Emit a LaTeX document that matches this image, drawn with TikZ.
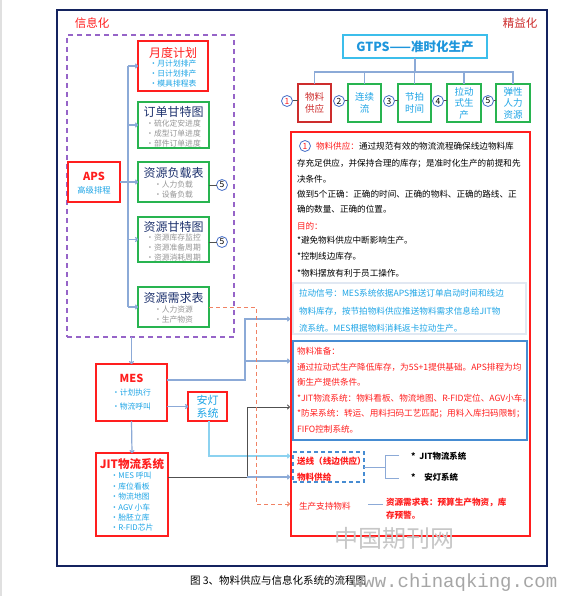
\documentclass[tikz,border=0pt]{standalone}
\usepackage{fontspec}
\setmainfont{Noto Sans CJK SC}
\newfontfamily\wmmono{Liberation Mono}
\usetikzlibrary{arrows.meta}
\definecolor{cnavy}{RGB}{20,35,95}
\definecolor{cred}{RGB}{255,30,30}
\definecolor{cdred}{RGB}{205,45,45}
\definecolor{cgreen}{RGB}{40,180,80}
\definecolor{cpurple}{RGB}{150,100,200}
\definecolor{ccyan}{RGB}{30,165,230}
\definecolor{ctitle}{RGB}{30,50,110}
\definecolor{cgrayt}{RGB}{150,150,150}
\definecolor{cconn}{RGB}{140,170,215}
\definecolor{clcyan}{RGB}{140,210,240}
\definecolor{cdark}{RGB}{80,80,80}
\definecolor{corange}{RGB}{240,130,100}
\definecolor{cgtpsb}{RGB}{60,190,235}
\definecolor{cgtpst}{RGB}{30,150,220}
\definecolor{cbbox}{RGB}{70,140,210}
\definecolor{cfaint}{RGB}{225,232,242}
\definecolor{ccirc}{RGB}{70,110,200}
\newcommand\fsz[2]{\fontsize{#1}{#2}\selectfont}

\begin{document}
\begin{tikzpicture}[x=1pt,y=-1pt,
  every node/.style={inner sep=0pt,outer sep=0pt},
  rbox/.style 2 args={draw=cred,line width=1.3pt,minimum width=#1,minimum height=#2},
  gbox/.style 2 args={draw=cgreen,line width=1.3pt,minimum width=#1,minimum height=#2},
  ltitle/.style={font=\fsz{12}{14},text=ctitle},
  litem/.style={font=\fsz{7.8}{10},text=cgrayt,align=center},
  circ/.style={circle,draw=ccirc,line width=0.8pt,fill=white,minimum size=11pt,font=\fsz{8.5}{8.5}},
  body/.style={anchor=west,font=\fsz{8.6}{10}},
  conn/.style={draw=cconn,line width=1.2pt},
  arr/.style={-{To[length=3pt,width=5pt]}},
  linkln/.style={draw=cdark,line width=1pt}
]
\useasboundingbox (0,0) rectangle (560,596);
\fill[white] (0,0) rectangle (560,596);
\fill[black!12] (0,0) rectangle (2,596);

% outer frame
\draw[cnavy,line width=1.4pt] (57,10) rectangle (547,566);
\node[font=\fsz{11.5}{13},text=cred] (lxx) at (92,23) {信息化};
\node[font=\fsz{11.5}{13},text=cdred] (ljy) at (520,23) {精益化};

% purple dashed area
\node[draw=cpurple,line width=1.4pt,dash pattern=on 5pt off 4pt,minimum width=167,minimum height=302] (info) at (150.5,186) {};

% left boxes
\node[rbox={70}{50}] (yd) at (173,66) {};
\node[ltitle,text=cred] (ydt) at (173,53) {月度计划};
\node[litem,text=ccyan] (ydi) at (173,73.5) {•月计划排产\\•日计划排产\\•模具排程表};

\node[gbox={71}{46}] (dd) at (173.5,125) {};
\node[ltitle] (ddt) at (173.5,112) {订单甘特图};
\node[litem] (ddi) at (173.5,133.5) {•硫化定安进度\\•成型订单进度\\•部件订单进度};

\node[gbox={71}{40}] (fz) at (173.5,182) {};
\node[ltitle] (fzt) at (173.5,173) {资源负载表};
\node[litem] (fzi) at (173.5,189.5) {•人力负载\\•设备负载};

\node[gbox={71}{45}] (gt) at (173.5,239.5) {};
\node[ltitle] (gtt) at (173.5,227) {资源甘特图};
\node[litem] (gti) at (173.5,247.5) {•资源库存监控\\•资源准备周期\\•资源消耗周期};

\node[gbox={71}{40}] (xq) at (173.5,307) {};
\node[ltitle] (xqt) at (173.5,298) {资源需求表};
\node[litem] (xqi) at (173.5,314.5) {•人力资源\\•生产物资};

\node[circ] (c5a) at (222,185) {5};
\node[circ] (c5b) at (222,242) {5};
\draw[linkln] (fz.east |- c5a) -- (c5a);
\draw[linkln] (gt.east |- c5b) -- (c5b);

% APS
\node[rbox={52}{40}] (aps) at (94,182) {};
\node[font=\fsz{11}{13}\bfseries,text=cred] (apst) at (94,176) {APS};
\node[font=\fsz{8.3}{10},text=ccyan] (apsi) at (94,190) {高级排程};

% APS distribution
\coordinate (vx) at (128,0);
\draw[conn] (vx |- yd.west) -- (vx |- xq.west);
\draw[conn] (aps.east) -- (aps.east -| vx);
\foreach \b in {yd,dd,fz,gt,xq}{
  \draw[conn,arr] (vx |- \b.west) -- (\b.west);
}

% MES
\node[rbox={71}{57}] (mes) at (131.5,392.5) {};
\node[font=\fsz{11}{13}\bfseries,text=cred] (mest) at (131.5,378) {MES};
\node[font=\fsz{7.8}{14},text=ccyan,align=left] (mesi) at (131.5,400) {•计划执行\\•物流呼叫};
\draw[conn,arr] (info.south -| mes.north) -- (mes.north);

% Andon
\node[rbox={39}{29},align=center,font=\fsz{11}{13},text=ccyan] (ad) at (207.5,406.5) {安灯\\系统};
\draw[conn,arr] (mes.east |- ad.west) -- (ad.west);

% JIT
\node[rbox={72}{83}] (jit) at (132,494.5) {};
\node[font=\fsz{11.5}{13}\bfseries,text=cred] (jitt) at (132,464) {JIT物流系统};
\node[font=\fsz{7.8}{10.4},text=ccyan,align=left] (jiti) at (132,502) {•MES 呼叫\\•库位看板\\•物流地图\\•AGV 小车\\•胎胚立库\\•R-FID芯片};
\draw[conn,arr] (mes.south) -- (jit.north);

% GTPS
\node[draw=cgtpsb,line width=1.4pt,minimum width=144,minimum height=23,font=\fsz{12.5}{14}\bfseries,text=cgtpst] (gtps) at (415,46.5) {GTPS——准时化生产};
\node[rbox={33}{38},draw=cdred,align=center,font=\fsz{9.5}{11.5},text=cdred] (b1) at (314.5,103) {物料\\供应};
\node[gbox={33}{38},align=center,font=\fsz{9.5}{11.5},text=ccyan] (b2) at (364.5,103) {连续\\流};
\node[gbox={33}{38},align=center,font=\fsz{9.5}{11.5},text=ccyan] (b3) at (414.5,103) {节拍\\时间};
\node[gbox={34}{38},align=center,font=\fsz{9.5}{11.5},text=ccyan] (b4) at (464,103) {拉动\\式生\\产};
\node[gbox={34}{38},align=center,font=\fsz{9.5}{11.5},text=ccyan] (b5) at (513,103) {弹性\\人力\\资源};
\coordinate (tj) at (415,72);
\draw[conn] (gtps.south) -- (tj);
\draw[conn] (b1.north) -- (b1.north |- tj) -- (b5.north |- tj) -- (b5.north);
\foreach \b in {b2,b3,b4}{ \draw[conn] (\b.north) -- (\b.north |- tj); }
\node[circ] (n1) at (287,101) {\textcolor{cred}{1}};
\node[circ] (n2) at (339,101) {2};
\node[circ] (n3) at (389,101) {3};
\node[circ] (n4) at (438,101) {4};
\node[circ] (n5) at (488,101) {5};
\foreach \c/\b in {n1/b1,n2/b2,n3/b3,n4/b4,n5/b5}{ \draw[linkln] (\c) -- (\b.west |- \c); }

% big red box
\node[draw=cred,line width=1.3pt,minimum width=239,minimum height=404] (big) at (410.5,334) {};
\node[circ,text=cred] (n1b) at (305,146) {1};
\node[body] (l1) at (316,146) {\textcolor{cred}{物料供应：}通过规范有效的物流流程确保线边物料库};
\foreach \yy/\tx [count=\i] in {164/{存充足供应，并保持合理的库存；是准时化生产的前提和先},
  179/{决条件。},194/{做到5个正确：正确的时间、正确的物料、正确的路线、正},
  209/{确的数量、正确的位置。},240/{*避免物料供应中断影响生产。},
  256/{*控制线边库存。},273/{*物料摆放有利于员工操作。}}{
  \node[body] (bl\i) at (297,\yy) {\tx};
}
\node[body,text=cred] (mudi) at (297,226) {目的：};

% pull signal box
\node[draw=cfaint,line width=1.2pt,minimum width=233,minimum height=51] (pull) at (409.5,308.5) {};
\foreach \yy/\tx [count=\i] in {293/{拉动信号：MES系统依据APS推送订单启动时间和线边},
  311/{物料库存，按节拍物料供应推送物料需求信息给JIT物},
  328/{流系统。MES根据物料消耗返卡拉动生产。}}{
  \node[body,text=ccyan] (pl\i) at (299,\yy) {\tx};
}

% preparation box
\node[draw=cbbox,line width=1.3pt,minimum width=234,minimum height=99] (prep) at (410,390.5) {};
\foreach \yy/\tx [count=\i] in {351/{物料准备：},
  367/{通过拉动式生产降低库存，为5S+1提供基础。APS排程为均},
  382/{衡生产提供条件。},
  398/{*JIT物流系统：物料看板、物流地图、R-FID定位、AGV小车。},
  414/{*防呆系统：转运、用料扫码工艺匹配；用料入库扫码限制；},
  429/{FIFO控制系统。}}{
  \node[body,text=cred] (pr\i) at (297,\yy) {\tx};
}

% feeding dashed box
\node[draw=cbbox,line width=1.4pt,dash pattern=on 4pt off 3pt,minimum width=71,minimum height=30] (feed) at (328.5,467) {};
\node[body,text=cred,font=\fsz{8.6}{10}\bfseries] (fd1) at (297,461) {送线（线边供应）};
\node[body,text=cred,font=\fsz{8.6}{10}\bfseries] (fd2) at (297,477) {物料供给};
\node[body,font=\fsz{8.4}{10}\bfseries] (s1) at (411,456) {*\hspace{4pt}JIT物流系统};
\node[body,font=\fsz{8.4}{10}\bfseries] (s2) at (411,477) {*\hspace{9pt}安灯系统};
\coordinate (bk) at (385,467);
\coordinate (bkt) at (399,455);
\coordinate (bkb) at (399,478);
\draw[conn,line width=0.9pt] (feed.east) -- (bk);
\draw[conn,line width=0.9pt] (bkt) -- (bk |- bkt) -- (bk |- bkb) -- (bkb);

% support material
\node[body,text=cred] (sc) at (299,506) {生产支持物料};
\node[body,text=cred,font=\fsz{8.6}{10}\bfseries] (sr) at (386,502) {资源需求表：预算生产物资，库};
\node[body,text=cred,font=\fsz{8.6}{10}\bfseries] (sr2) at (386,515) {存预警。};
\coordinate (sl1) at (368,504);
\coordinate (sl2) at (383,504);
\draw[conn,line width=0.9pt] (sl1) -- (sl2);

% connectors from left to right
\coordinate (a1) at (290,319);
\coordinate (a2) at (290,361);
\coordinate (a3) at (290,456);
\coordinate (a4) at (290,407);
\coordinate (a5) at (290,477);
\coordinate (a6) at (290,504);
\coordinate (m1) at (245,380);
\coordinate (j1) at (247,477);
\coordinate (o1) at (256,504);
\draw[conn,arr] ([yshift=12.5pt]mes.east) -- (m1) |- (a1);
\draw[conn,arr] (m1 |- a2) -- (a2);
\draw[draw=clcyan,line width=1.4pt,arr] (ad.south -| 209,0) |- (a3);
\draw[linkln,arr] (jit.east |- j1) -- (j1) |- (a4);
\draw[conn,arr] (j1) -- (a5);
\draw[draw=corange,line width=1pt,dash pattern=on 4pt off 3pt,arr] (xq.east) -| (o1) -- (a6);

% caption and watermarks
\node[anchor=west,font=\fsz{10.5}{12}] (cap) at (190,580) {图 3、物料供应与信息化系统的流程图};
\node[font=\fsz{24}{24},text=black!22] (wm1) at (394,538) {中国期刊网};
\node[anchor=west,font=\wmmono\fsz{19}{19},text=black!35] (wm2) at (352,583) {www.chinaqking.com};
\end{tikzpicture}
\end{document}
